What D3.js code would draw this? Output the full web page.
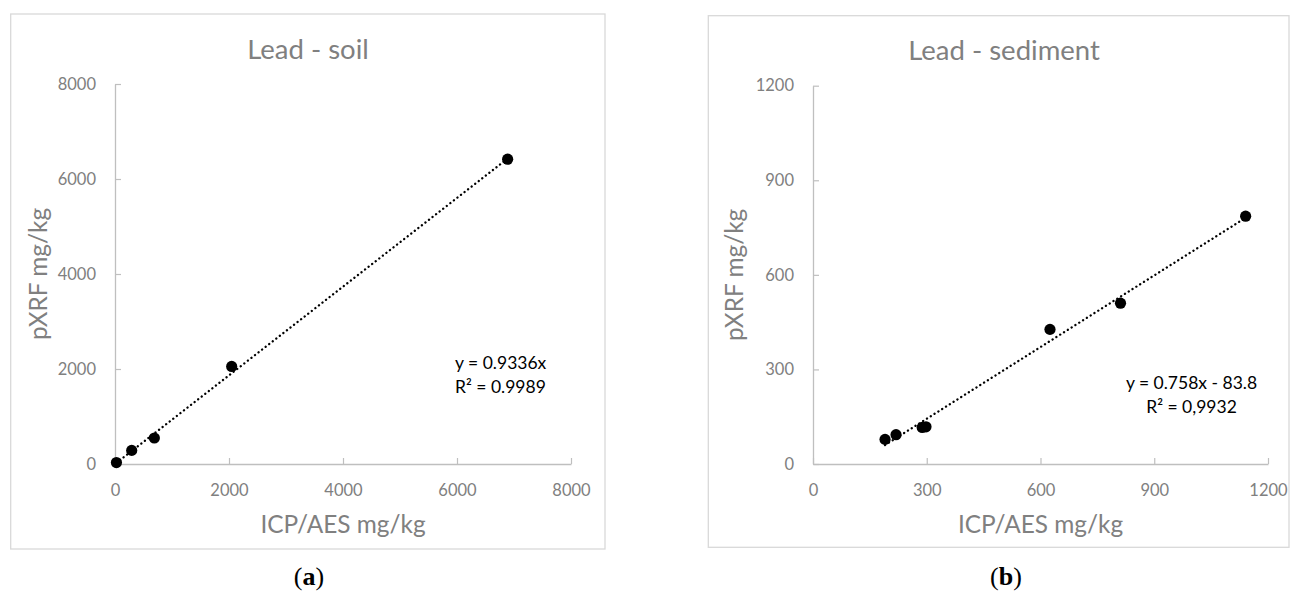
<!DOCTYPE html>
<html>
<head>
<meta charset="utf-8">
<script src="https://cdn.jsdelivr.net/npm/d3@7"></script>
<style>
  html, body { margin: 0; padding: 0; background: #fff; }
  svg { display: block; }
  text { font-family: Lato, "Open Sans", sans-serif; }
  text.letter { font-family: "Liberation Serif", "DejaVu Serif", serif; }
</style>
</head>
<body>
<svg id="chart" width="1293" height="591"></svg>
<script>
// ---- Data ----
const soilTitle = "Lead - soil";
const soilX = [25, 293, 690, 2047, 6888];          // ICP/AES mg/kg
const soilY = [30, 286, 547, 2054, 6417];          // pXRF mg/kg
const soilTicks = [0, 2000, 4000, 6000, 8000];
const soilSlope = 0.9336;
const soilIntercept = 0;
const soilEquation = ["y = 0.9336x", "R² = 0.9989"];

const sedimentTitle = "Lead - sediment";
const sedimentX = [190, 219, 288, 298, 625, 811, 1141];
const sedimentY = [78, 93, 116, 118, 427, 510, 786];
const sedimentTicks = [0, 300, 600, 900, 1200];
const sedimentSlope = 0.758;
const sedimentIntercept = -83.8;
const sedimentEquation = ["y = 0.758x - 83.8", "R² = 0,9932"];

const xAxisTitle = "ICP/AES mg/kg";
const yAxisTitle = "pXRF mg/kg";
const panelLetters = ["a", "b"];

// ---- Drawing ----
const svg = d3.select("#chart");
const GRAY = "#808080";

function drawPanel(cfg) {
  const g = svg.append("g");
  const dom = d3.extent(cfg.ticks);

  // outer frame
  g.append("rect")
    .attr("x", cfg.box[0]).attr("y", cfg.box[1])
    .attr("width", cfg.box[2] - cfg.box[0]).attr("height", cfg.box[3] - cfg.box[1])
    .attr("fill", "none").attr("stroke", "#d9d9d9").attr("stroke-width", 1.3);

  const x = d3.scaleLinear().domain(dom).range([cfg.plot[0], cfg.plot[2]]);
  const y = d3.scaleLinear().domain(dom).range([cfg.plot[3], cfg.plot[1]]);

  // axes
  const yAxis = g.append("g")
    .attr("transform", `translate(${cfg.plot[0]},0)`)
    .call(d3.axisLeft(y).tickValues(cfg.ticks).tickSizeInner(-6).tickSizeOuter(0).tickPadding(19).tickFormat(d3.format("d")));
  const xAxis = g.append("g")
    .attr("transform", `translate(0,${cfg.plot[3]})`)
    .call(d3.axisBottom(x).tickValues(cfg.ticks).tickSizeInner(-6).tickSizeOuter(0).tickPadding(20).tickFormat(d3.format("d")));
  [yAxis, xAxis].forEach(a => {
    a.select(".domain").attr("stroke", "#bfbfbf").attr("stroke-width", 1.3);
    a.selectAll(".tick line").attr("stroke", "#bfbfbf").attr("stroke-width", 1.2);
    a.selectAll(".tick text").attr("fill", GRAY).attr("font-size", 16.5)
      .style("font-family", "Lato, sans-serif");
  });

  // title
  g.append("text").attr("x", cfg.titlePos[0]).attr("y", cfg.titlePos[1])
    .attr("text-anchor", "middle").attr("fill", GRAY).attr("font-size", 27.5)
    .text(cfg.title);

  // axis titles
  g.append("text").attr("x", (cfg.plot[0] + cfg.plot[2]) / 2).attr("y", 533)
    .attr("text-anchor", "middle").attr("fill", GRAY).attr("font-size", 24.4)
    .text(xAxisTitle);
  g.append("text")
    .attr("transform", `translate(${cfg.yLabelX},${(cfg.plot[1] + cfg.plot[3]) / 2}) rotate(-90)`)
    .attr("text-anchor", "middle").attr("fill", GRAY).attr("font-size", 24.4)
    .text(yAxisTitle);

  // trend line (dotted)
  const xe = d3.extent(cfg.xs);
  const trend = xe.map(v => [v, cfg.slope * v + cfg.intercept]);
  g.append("path")
    .attr("d", d3.line().x(d => x(d[0])).y(d => y(d[1]))(trend))
    .attr("fill", "none").attr("stroke", "#000").attr("stroke-width", 2.3)
    .attr("stroke-linecap", "round").attr("stroke-dasharray", "0.1 4.4");

  // points
  g.selectAll("circle.pt").data(cfg.xs.map((v, i) => [v, cfg.ys[i]]))
    .join("circle").attr("class", "pt")
    .attr("cx", d => x(d[0])).attr("cy", d => y(d[1])).attr("r", 5.6)
    .attr("fill", "#000");

  // equation
  const eq = g.append("text").attr("fill", "#000").attr("font-size", 17.5)
    .attr("text-anchor", cfg.eqAnchor);
  cfg.equation.forEach((line, i) => {
    eq.append("tspan").attr("x", cfg.eqPos[0]).attr("y", cfg.eqPos[1] + i * 24).text(line);
  });

  // panel letter
  const lt = g.append("text").attr("class", "letter").attr("x", cfg.letterX).attr("y", 585)
    .attr("text-anchor", "middle").attr("fill", "#000").attr("font-size", 26);
  lt.append("tspan").text("(");
  lt.append("tspan").attr("font-weight", "bold").text(cfg.letter);
  lt.append("tspan").text(")");
}

drawPanel({
  title: soilTitle, xs: soilX, ys: soilY, ticks: soilTicks,
  slope: soilSlope, intercept: soilIntercept, equation: soilEquation,
  box: [10.7, 14, 605, 549], plot: [115, 84, 571, 464],
  titlePos: [308, 58.5], yLabelX: 47, eqPos: [455, 369], eqAnchor: "start",
  letterX: 309, letter: panelLetters[0]
});

drawPanel({
  title: sedimentTitle, xs: sedimentX, ys: sedimentY, ticks: sedimentTicks,
  slope: sedimentSlope, intercept: sedimentIntercept, equation: sedimentEquation,
  box: [708.3, 15.7, 1289, 547.3], plot: [813, 85.7, 1268, 464],
  titlePos: [1004, 60], yLabelX: 743, eqPos: [1191.5, 389], eqAnchor: "middle",
  letterX: 1006, letter: panelLetters[1]
});
</script>
</body>
</html>
